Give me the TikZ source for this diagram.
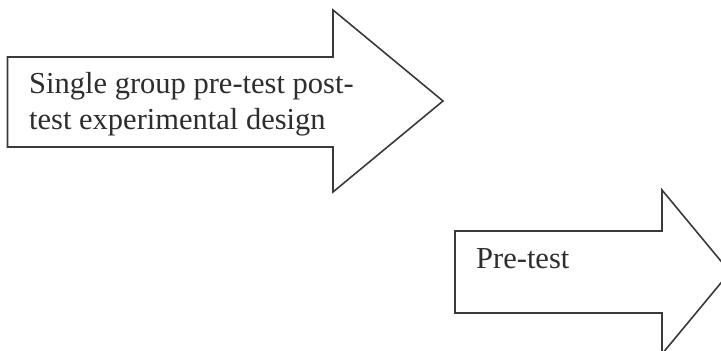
\documentclass[tikz,border=0pt]{standalone}
\usepackage{fontspec}
\setmainfont{Liberation Serif}
\definecolor{inkline}{HTML}{3A3A3A}
\definecolor{inktext}{HTML}{2E2E2E}
\begin{document}
\begin{tikzpicture}[x=1pt,y=-1pt,
  arrowshape/.style={draw=inkline,line width=1.6pt,line join=miter,fill=white},
  label/.style={text=inktext,inner sep=0pt,anchor=base west,align=left,
    font=\fontsize{30.5}{36}\selectfont}]
\useasboundingbox (0,0) rectangle (721,351);
\clip (0,0) rectangle (721,351);
\fill[white] (0,0) rectangle (721,351);
% first arrow
\draw[arrowshape] (7.5,57) -- (333,57) -- (333,10) -- (443,101) -- (333,192) -- (333,147) -- (7.5,147) -- cycle;
\node[label] (design) at (29,129) {Single group pre-test post-\\test experimental design};
% second arrow
\draw[arrowshape] (455,231) -- (662,231) -- (662,190) -- (730,272) -- (662,354) -- (662,313) -- (455,313) -- cycle;
\node[label] (pretest) at (476,268) {Pre-test};
\end{tikzpicture}
\end{document}
